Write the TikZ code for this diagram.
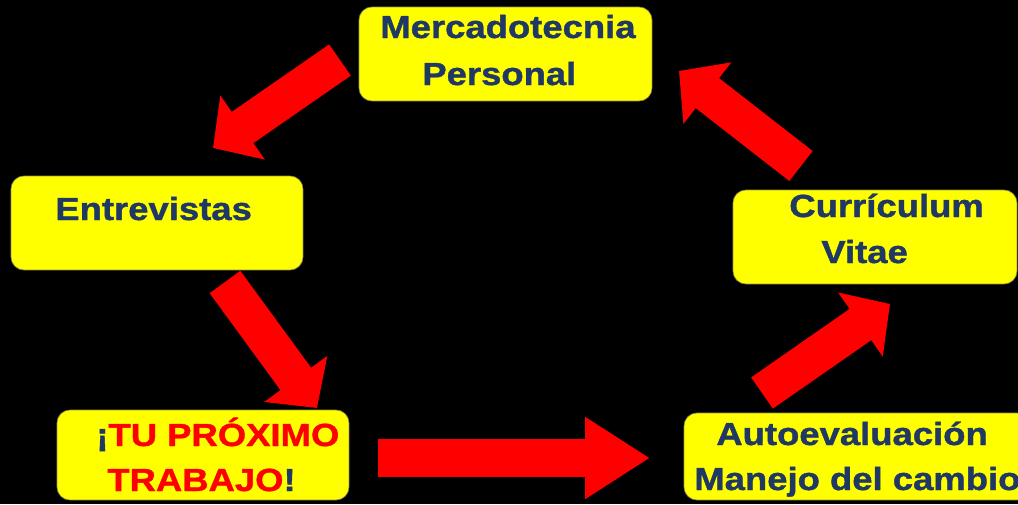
\documentclass[tikz,border=0pt]{standalone}
\usepackage{fontspec}
\usepackage{xcolor}
\usetikzlibrary{arrows.meta,positioning}
\newfontfamily\boxfont{Liberation Sans}[FakeStretch=1.14,FakeBold=1.2]
\definecolor{navy}{RGB}{31,56,100}
\definecolor{boxyellow}{RGB}{255,255,0}

\begin{document}
\begin{tikzpicture}[x=0.02cm,y=-0.02cm,
    ybox/.style={draw=yellow!55!black, line width=0.4pt, fill=boxyellow, rounded corners=0.26cm},
    lbl/.style={anchor=base west, inner sep=0pt, text=navy, font=\boxfont\bfseries\fontsize{18.2}{22}\selectfont},
    bigarrow/.style={red, line width=0.76cm, -{Triangle[length=0.72cm, width=1.52cm]}},
    longarrow/.style={red, line width=0.76cm, -{Triangle[length=1.3cm, width=1.56cm]}}]
            % Background
            \useasboundingbox (0,0) rectangle (1018,504);
            \clip (0,0) rectangle (1018,504);
            \fill[black] (0,0) rectangle (1018,504);

            % Boxes
            \node[ybox, minimum width=5.86cm, minimum height=1.88cm] (mercado) at (505.5,54) {};
            \node[ybox, minimum width=5.84cm, minimum height=1.88cm] (entrev) at (157,223) {};
            \node[ybox, minimum width=5.84cm, minimum height=1.8cm] (trabajo) at (203,455) {};
            \node[ybox, minimum width=6.92cm, minimum height=1.74cm] (autoev) at (857,456.5) {};
            \node[ybox, minimum width=5.68cm, minimum height=1.88cm] (curric) at (875,237) {};

            % Labels
            \node[lbl] (m1) at (380,38) {Mercadotecnia};
            \node[lbl] (m2) at (422,85) {Personal};
            \node[lbl] (e1) at (55,220) {Entrevistas};
            \node[lbl] (t1) at (96,446) {¡\textcolor{red}{TU PRÓXIMO}};
            \node[lbl] (t2) at (107,491) {\textcolor{red}{TRABAJO}!};
            \node[lbl] (a1) at (716,445) {Autoevaluación};
            \node[lbl] (a2) at (694,490) {Manejo del cambio};
            \node[lbl] (c1) at (789,217) {Currículum};
            \node[lbl] (c2) at (821,263) {Vitae};

            % Arrows
            \coordinate (s1) at (340,60);  \coordinate (e1tip) at (213,148);
            \coordinate (s2) at (225,282); \coordinate (e2tip) at (317,408);
            \coordinate (s3) at (378,458); \coordinate (e3tip) at (650,458);
            \coordinate (s4) at (762,393); \coordinate (e4tip) at (890,304);
            \coordinate (s5) at (801,166); \coordinate (e5tip) at (679,71);
            \draw[bigarrow] (s1) -- (e1tip);
            \draw[bigarrow] (s2) -- (e2tip);
            \draw[longarrow] (s3) -- (e3tip);
            \draw[bigarrow] (s4) -- (e4tip);
            \draw[bigarrow] (s5) -- (e5tip);
        \end{tikzpicture}
\end{document}
